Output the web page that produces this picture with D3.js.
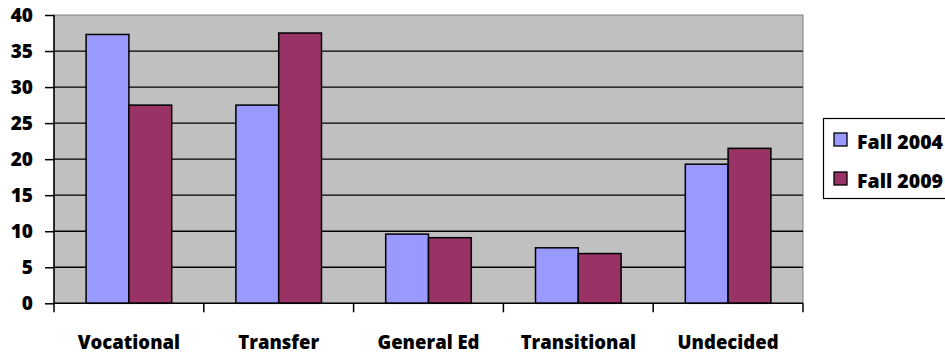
<!DOCTYPE html>
<html><head><meta charset="utf-8">
<script src="https://cdn.jsdelivr.net/npm/d3@7"></script>
<style>body{margin:0;background:#fff}svg{display:block}text{font-family:"Open Sans",sans-serif;font-weight:800;fill:#000}</style>
</head><body><svg id="c" width="945" height="355"></svg>
<script>
const categories = ["Vocational","Transfer","General Ed","Transitional","Undecided"];
const seriesNames = ["Fall 2004","Fall 2009"];
const fall2004 = [37.3, 27.5, 9.6, 7.7, 19.3];
const fall2009 = [27.5, 37.5, 9.1, 6.9, 21.5];
const yTicks = [0,5,10,15,20,25,30,35,40];
const colors = ["#9999FF","#993366"];

const svg = d3.select("#c");
const L=54, R=803, T=15, B=303.3;
const x = d3.scaleBand().domain(categories).range([L,R]).paddingInner(0).paddingOuter(0);
const xi = d3.scaleBand().domain(seriesNames).range([0,x.bandwidth()]).paddingInner(0).paddingOuter(0.75);
const y = d3.scaleLinear().domain([0,40]).range([B,T]);

svg.append("rect").attr("x",L).attr("y",T).attr("width",R-L).attr("height",B-T).attr("fill","#C0C0C0").attr("stroke","#808080").attr("stroke-width",1);

svg.append("g").selectAll("line").data(yTicks.filter(d=>d>0&&d<40)).join("line")
  .attr("x1",L).attr("x2",R).attr("y1",d=>y(d)).attr("y2",d=>y(d)).attr("stroke","#000").attr("stroke-width",1.3);

const data = [fall2004, fall2009];
const g = svg.append("g");
categories.forEach((c,i)=>{
  data.forEach((s,j)=>{
    g.append("rect").attr("x",x(c)+xi(seriesNames[j])).attr("y",y(s[i])).attr("width",xi.bandwidth()).attr("height",B-y(s[i]))
     .attr("fill",colors[j]).attr("stroke","#000").attr("stroke-width",1.5);
  });
});

// y axis
const yAxis = d3.axisLeft(y).tickValues(yTicks).tickSize(9).tickPadding(12);
const ya = svg.append("g").attr("transform",`translate(${L},0)`).call(yAxis);
ya.select(".domain").attr("stroke","#000").attr("stroke-width",1.5).attr("d",`M0,${T}V${B}`);
ya.selectAll(".tick line").attr("stroke","#000").attr("stroke-width",1.5);
ya.selectAll(".tick text").style("font-size","19px").style("font-family","'Open Sans'").style("font-weight","800").attr("fill","#000");

// x axis
const xa = svg.append("g").attr("transform",`translate(0,${B})`);
xa.append("line").attr("x1",L).attr("x2",R).attr("stroke","#000").attr("stroke-width",1.5);
const bounds = categories.map(c=>x(c)).concat([R]);
xa.selectAll("line.t").data(bounds).join("line").attr("class","t").attr("x1",d=>d).attr("x2",d=>d).attr("y1",0).attr("y2",9).attr("stroke","#000").attr("stroke-width",1.5);
xa.selectAll("text").data(categories).join("text").attr("x",d=>x(d)+x.bandwidth()/2).attr("y",46).attr("text-anchor","middle").style("font-size","18.5px").text(d=>d);

// legend
const lg = svg.append("g");
lg.append("rect").attr("x",823.5).attr("y",118.5).attr("width",140).attr("height",80).attr("fill","#fff").attr("stroke","#000").attr("stroke-width",1.2);
seriesNames.forEach((n,j)=>{
  const yy = 133 + j*39;
  lg.append("rect").attr("x",834).attr("y",yy).attr("width",13).attr("height",13).attr("fill",colors[j]).attr("stroke","#000").attr("stroke-width",1.3);
  lg.append("text").attr("x",857).attr("y",yy+15.5).style("font-size","19.5px").text(n);
});
</script></body></html>
